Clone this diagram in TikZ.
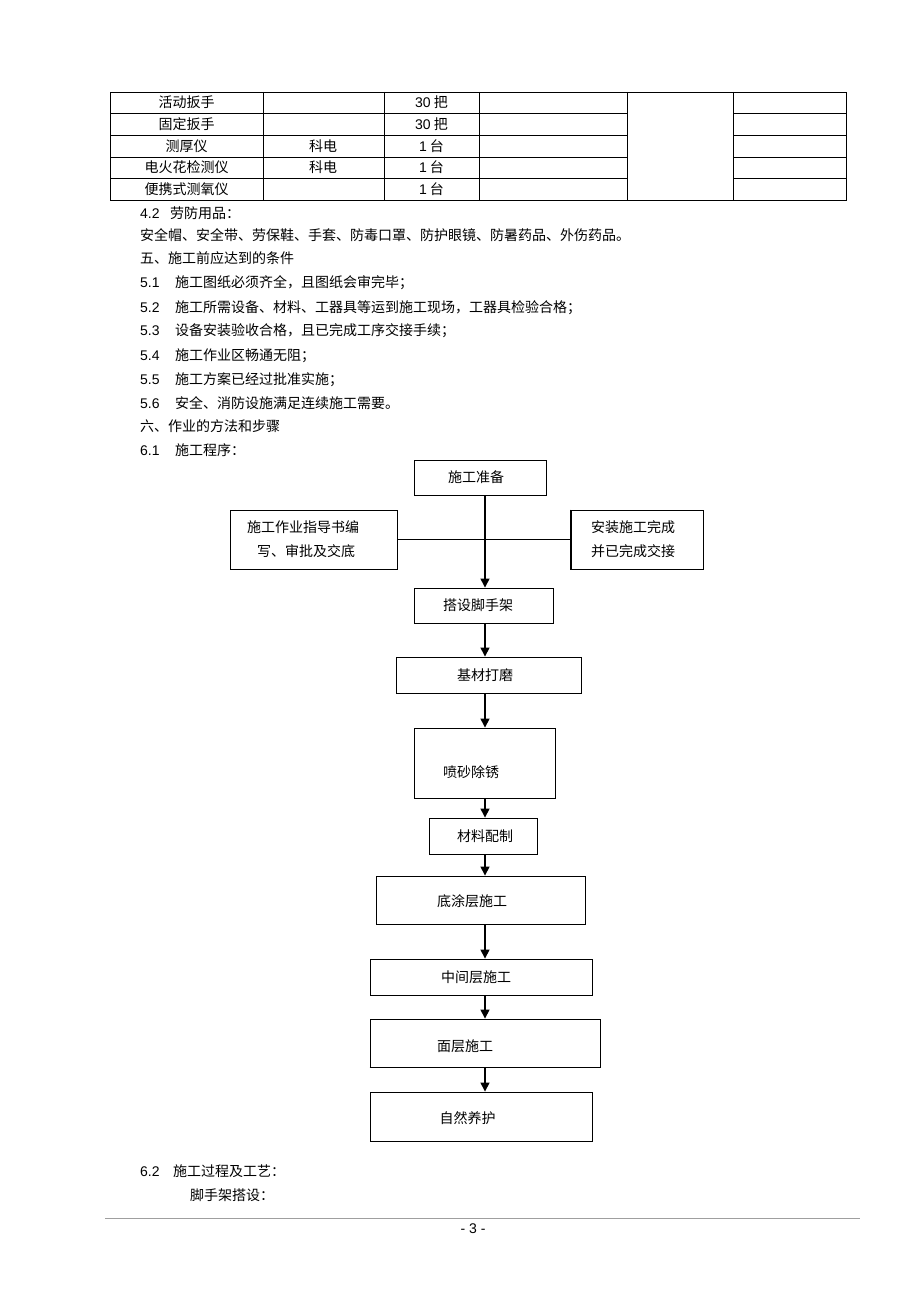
\documentclass[tikz,border=0pt]{standalone}
\usepackage{fontspec}
\setmainfont{Noto Sans CJK SC}
\newfontfamily\ar{Liberation Sans}
\usetikzlibrary{arrows.meta}
\begin{document}
\begin{tikzpicture}[x=1pt,y=-1pt,
  txt/.style={inner sep=0pt, font=\fontsize{14}{16}\selectfont, text height=12.3pt, text depth=1.7pt},
  box/.style={draw=black, line width=0.9pt, inner sep=0pt},
  arr/.style={line width=1.4pt, -{Triangle[width=9pt,length=9pt]}},
  tline/.style={line width=0.8pt, black}
]
\useasboundingbox[fill=white] (0,0) rectangle (920,1303);

% ---------- table ----------
\draw[tline] (110,92) rectangle (846,200);
\foreach \x in {263,384,479.5,627.5,733.5} \draw[tline] (\x,92) -- (\x,200);
\foreach \y in {113,135,157,178} {
  \draw[tline] (110,\y) -- (627.5,\y);
  \draw[tline] (733.5,\y) -- (846,\y);
}
\node[txt] (r1a) at (186.5,102.5) {活动扳手};
\node[txt] (r2a) at (186.5,124) {固定扳手};
\node[txt] (r3a) at (186.5,146) {测厚仪};
\node[txt] (r4a) at (186.5,167.5) {电火花检测仪};
\node[txt] (r5a) at (186.5,189) {便携式测氧仪};
\node[txt] (r3b) at (323,146) {科电};
\node[txt] (r4b) at (323,167.5) {科电};
\node[txt] (r1c) at (431.5,102.5) {{\ar 30} 把};
\node[txt] (r2c) at (431.5,124) {{\ar 30} 把};
\node[txt] (r3c) at (431.5,146) {{\ar 1} 台};
\node[txt] (r4c) at (431.5,167.5) {{\ar 1} 台};
\node[txt] (r5c) at (431.5,189) {{\ar 1} 台};

% ---------- body text ----------
\node[txt, anchor=west] (n42) at (140,213) {\ar 4.2};
\node[txt, anchor=west] (t42) at (170,213) {劳防用品：};
\node[txt, anchor=west] (tppe) at (140,235) {安全帽、安全带、劳保鞋、手套、防毒口罩、防护眼镜、防暑药品、外伤药品。};
\node[txt, anchor=west] (t5) at (140,258) {五、施工前应达到的条件};
\node[txt, anchor=west] (n51) at (140,282) {\ar 5.1};
\node[txt, anchor=west] (t51) at (175,282) {施工图纸必须齐全，且图纸会审完毕；};
\node[txt, anchor=west] (n52) at (140,307) {\ar 5.2};
\node[txt, anchor=west] (t52) at (175,307) {施工所需设备、材料、工器具等运到施工现场，工器具检验合格；};
\node[txt, anchor=west] (n53) at (140,330) {\ar 5.3};
\node[txt, anchor=west] (t53) at (175,330) {设备安装验收合格，且已完成工序交接手续；};
\node[txt, anchor=west] (n54) at (140,355) {\ar 5.4};
\node[txt, anchor=west] (t54) at (175,355) {施工作业区畅通无阻；};
\node[txt, anchor=west] (n55) at (140,379) {\ar 5.5};
\node[txt, anchor=west] (t55) at (175,379) {施工方案已经过批准实施；};
\node[txt, anchor=west] (n56) at (140,403) {\ar 5.6};
\node[txt, anchor=west] (t56) at (175,403) {安全、消防设施满足连续施工需要。};
\node[txt, anchor=west] (t6) at (140,426) {六、作业的方法和步骤};
\node[txt, anchor=west] (n61) at (140,450) {\ar 6.1};
\node[txt, anchor=west] (t61) at (175,450) {施工程序：};

% ---------- flowchart ----------
\coordinate (spine) at (485,0);
\node[box, minimum width=132pt, minimum height=35pt] (n1) at (480,477.5) {};
\node[txt] (l1) at (476,477.5) {施工准备};
\node[box, minimum width=167pt, minimum height=59pt] (L) at (313.5,539.5) {};
\node[txt] (lL1) at (303,527) {施工作业指导书编};
\node[txt] (lL2) at (306,551) {写、审批及交底};
\node[box, minimum width=132pt, minimum height=59pt] (R) at (637,539.5) {};
\draw[line width=1.4pt] (R.north west) -- (R.south west) -- (R.south east);
\node[txt] (lR1) at (633,527) {安装施工完成};
\node[txt] (lR2) at (633,551) {并已完成交接};
\node[box, minimum width=139pt, minimum height=35pt] (n2) at (483.5,605.5) {};
\node[txt] (l2) at (478,605.5) {搭设脚手架};
\node[box, minimum width=185pt, minimum height=36pt] (n3) at (488.5,675) {};
\node[txt] (l3) at (485,675) {基材打磨};
\node[box, minimum width=141pt, minimum height=70pt] (n4) at (484.5,763) {};
\node[txt] (l4) at (471,772) {喷砂除锈};
\node[box, minimum width=108pt, minimum height=36pt] (n5) at (483,836) {};
\node[txt] (l5) at (485,836) {材料配制};
\node[box, minimum width=209pt, minimum height=48pt] (n6) at (480.5,900) {};
\node[txt] (l6) at (472,901) {底涂层施工};
\node[box, minimum width=222pt, minimum height=36pt] (n7) at (481,977) {};
\node[txt] (l7) at (476,977) {中间层施工};
\node[box, minimum width=230pt, minimum height=48pt] (n8) at (485,1043) {};
\draw[line width=1.6pt] (n8.south west) -- (n8.south east);
\node[txt] (l8) at (465,1046) {面层施工};
\node[box, minimum width=222pt, minimum height=49pt] (n9) at (481,1116.5) {};
\node[txt] (l9) at (467.5,1118) {自然养护};

\draw[line width=0.9pt] (L.east) -- (R.west);
\draw[arr] (n1.south -| spine) -- (n2.north -| spine);
\draw[arr] (n2.south -| spine) -- (n3.north -| spine);
\draw[arr] (n3.south -| spine) -- (n4.north -| spine);
\draw[arr] (n4.south -| spine) -- (n5.north -| spine);
\draw[arr] (n5.south -| spine) -- (n6.north -| spine);
\draw[arr] (n6.south -| spine) -- (n7.north -| spine);
\draw[arr] (n7.south -| spine) -- (n8.north -| spine);
\draw[arr] (n8.south -| spine) -- (n9.north -| spine);

% ---------- after chart ----------
\node[txt, anchor=west] (n62) at (140,1171) {\ar 6.2};
\node[txt, anchor=west] (t62) at (173,1171) {施工过程及工艺：};
\node[txt, anchor=west] (tsc) at (190,1195) {脚手架搭设：};

% ---------- footer ----------
\coordinate (fl) at (105,1218);
\coordinate (fr) at (860,1218);
\draw[line width=1pt, gray!75] (fl) -- (fr);
\node[txt] (pg) at (473,1228) {\ar - 3 -};
\end{tikzpicture}
\end{document}
